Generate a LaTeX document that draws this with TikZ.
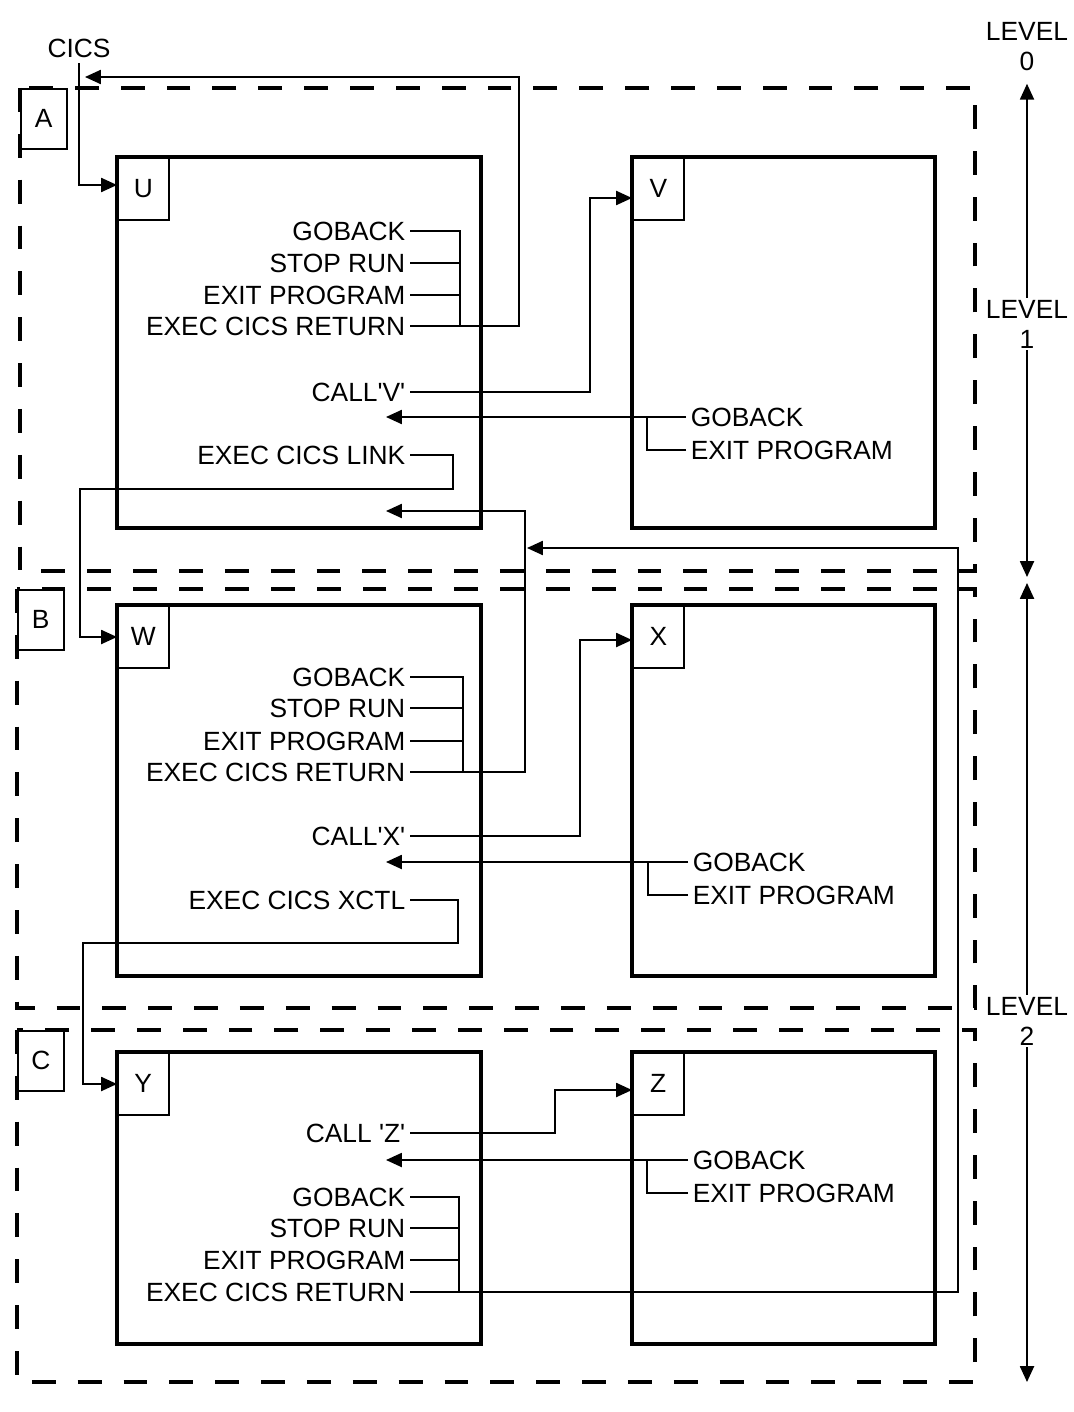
\documentclass[tikz,border=0pt]{standalone}
\usepackage{fontspec}
\setmainfont{Liberation Sans}
\usetikzlibrary{
	arrows.meta
}
\newcommand{\cfont}{\fontsize{15}{17}\selectfont}
\tikzset{
	prog/.style={line width=2.3pt},
	tagbox/.style={draw, line width=0.9pt, inner sep=0pt,
		minimum width=1.02cm, minimum height=1.24cm, font=\cfont},
	zone/.style={line width=2.3pt, dash pattern=on 13.6pt off 12.5pt},
	zonetag/.style={draw, line width=0.9pt, inner sep=0pt,
		minimum width=0.92cm, minimum height=1.2cm, font=\cfont},
	stmt/.style={font=\cfont, inner xsep=2.5pt, inner ysep=0pt,
		text height=10.7pt, text depth=0pt},
	link/.style={line width=0.95pt},
	flow/.style={link, -{Triangle[length=9pt, width=8pt]}},
	level/.style={font=\cfont, align=center, inner sep=1pt},
}
\newcommand{\progbox}[6]{%
	\draw[prog] (#2,#3) coordinate (#1nw) rectangle (#4,#5) coordinate (#1se);
	\node[tagbox, anchor=north west] (#1lab) at (#1nw) {#6};
}
\newcommand{\zonebox}[6]{%
	\draw[zone] (#2,#3) rectangle (#4,#5);
	\node[zonetag, anchor=north west] (#1) at (#2,#3) {#6};
}
\newcommand{\q}{\textquotesingle}

\begin{document}
\begin{tikzpicture}[x=0.02cm, y=-0.02cm, line join=miter]
	\useasboundingbox (0,0) rectangle (1073,1412);
	
	% -- Zones A, B, C ------------------------------------------
	\zonebox{zA}{20}{88}{975}{571}{A}
	\zonebox{zB}{17}{589}{975}{1008}{B}
	\zonebox{zC}{17}{1030}{975}{1382}{C}
	
	% -- Program boxes ------------------------------------------
	\progbox{U}{117}{157}{481}{528}{U}
	\progbox{V}{632}{157}{935}{528}{V}
	\progbox{W}{117}{605}{481}{976}{W}
	\progbox{X}{632}{605}{935}{976}{X}
	\progbox{Y}{117}{1052}{481}{1344}{Y}
	\progbox{Z}{632}{1052}{935}{1344}{Z}
	
	% -- CICS entry into U --------------------------------------
	\node[stmt, inner ysep=3pt] (cics) at (79,48) {CICS};
	\coordinate (uIn) at (79,185);
	\draw[flow] (cics.south) -- (uIn) -- (uIn -| Ulab.west);
	
	% -- Program U ----------------------------------------------
	\node[stmt, anchor=east] (uGo)   at (410,231) {GOBACK};
	\node[stmt, anchor=east] (uStop) at (410,263) {STOP RUN};
	\node[stmt, anchor=east] (uExit) at (410,295) {EXIT PROGRAM};
	\node[stmt, anchor=east] (uRet)  at (410,326) {EXEC CICS RETURN};
	\node[stmt, anchor=east] (uCall) at (410,392) {CALL\q V\q};
	\node[stmt, anchor=east] (uLink) at (410,455) {EXEC CICS LINK};
	
	\coordinate (uJ) at (460,326);
	\draw[link] (uGo.east) -| (uJ);
	\draw[link] (uStop.east) -- (uStop.east -| uJ);
	\draw[link] (uExit.east) -- (uExit.east -| uJ);
	
	% return to CICS
	\coordinate (uUp) at (519,77);
	\coordinate (cicsIn) at (85,77);
	\draw[flow] (uRet.east) -| (uUp) -- (cicsIn);
	
	% CALL V
	\coordinate (vIn) at (590,198);
	\draw[flow] (uCall.east) -| (vIn) -- (vIn -| Vlab.west);
	
	% LINK to W
	\coordinate (linkA) at (453,489);
	\coordinate (linkB) at (80,637);
	\draw[flow] (uLink.east) -| (linkA) -| (linkB) -- (linkB -| Wlab.west);
	
	% -- Program V ----------------------------------------------
	\node[stmt, anchor=west] (vGo)   at (686,417) {GOBACK};
	\node[stmt, anchor=west] (vExit) at (686,450) {EXIT PROGRAM};
	\coordinate (vJ) at (647,417);
	\coordinate (uBack) at (386,417);
	\draw[link] (vExit.west) -| (vJ);
	\draw[flow] (vGo.west) -- (uBack);
	
	% -- Program W ----------------------------------------------
	\node[stmt, anchor=east] (wGo)   at (410,677) {GOBACK};
	\node[stmt, anchor=east] (wStop) at (410,708) {STOP RUN};
	\node[stmt, anchor=east] (wExit) at (410,741) {EXIT PROGRAM};
	\node[stmt, anchor=east] (wRet)  at (410,772) {EXEC CICS RETURN};
	\node[stmt, anchor=east] (wCall) at (410,836) {CALL\q X\q};
	\node[stmt, anchor=east] (wXctl) at (410,900) {EXEC CICS XCTL};
	
	\coordinate (wJ) at (463,772);
	\draw[link] (wGo.east) -| (wJ);
	\draw[link] (wStop.east) -- (wStop.east -| wJ);
	\draw[link] (wExit.east) -- (wExit.east -| wJ);
	
	% return to U
	\coordinate (wUp) at (525,511);
	\coordinate (uBackW) at (386,511);
	\draw[flow] (wRet.east) -| (wUp) -- (uBackW);
	
	% CALL X
	\coordinate (xIn) at (580,640);
	\draw[flow] (wCall.east) -| (xIn) -- (xIn -| Xlab.west);
	
	% XCTL to Y
	\coordinate (xctlA) at (458,943);
	\coordinate (xctlB) at (83,1084);
	\draw[flow] (wXctl.east) -| (xctlA) -| (xctlB) -- (xctlB -| Ylab.west);
	
	% -- Program X ----------------------------------------------
	\node[stmt, anchor=west] (xGo)   at (688,862) {GOBACK};
	\node[stmt, anchor=west] (xExit) at (688,895) {EXIT PROGRAM};
	\coordinate (xJ) at (648,862);
	\coordinate (wBack) at (386,862);
	\draw[link] (xExit.west) -| (xJ);
	\draw[flow] (xGo.west) -- (wBack);
	
	% -- Program Y ----------------------------------------------
	\node[stmt, anchor=east] (yCall) at (410,1133) {CALL \q Z\q};
	\node[stmt, anchor=east] (yGo)   at (410,1197) {GOBACK};
	\node[stmt, anchor=east] (yStop) at (410,1228) {STOP RUN};
	\node[stmt, anchor=east] (yExit) at (410,1260) {EXIT PROGRAM};
	\node[stmt, anchor=east] (yRet)  at (410,1292) {EXEC CICS RETURN};
	
	\coordinate (yJ) at (459,1292);
	\draw[link] (yGo.east) -| (yJ);
	\draw[link] (yStop.east) -- (yStop.east -| yJ);
	\draw[link] (yExit.east) -- (yExit.east -| yJ);
	
	% return past W up to U
	\coordinate (yUp) at (958,548);
	\coordinate (yBackU) at (527,548);
	\draw[flow] (yRet.east) -| (yUp) -- (yBackU);
	
	% CALL Z
	\coordinate (zIn) at (555,1090);
	\draw[flow] (yCall.east) -| (zIn) -- (zIn -| Zlab.west);
	
	% -- Program Z ----------------------------------------------
	\node[stmt, anchor=west] (zGo)   at (688,1160) {GOBACK};
	\node[stmt, anchor=west] (zExit) at (688,1193) {EXIT PROGRAM};
	\coordinate (zJ) at (647,1160);
	\coordinate (yBack) at (386,1160);
	\draw[link] (zExit.west) -| (zJ);
	\draw[flow] (zGo.west) -- (yBack);
	
	% -- Levels -------------------------------------------------
	\node[level] (lev0) at (1027,47) {LEVEL\\0};
	\node[level] (lev1) at (1027,324) {LEVEL\\1};
	\node[level] (lev2) at (1027,1021) {LEVEL\\2};
	\coordinate (l1low) at (1027,577);
	\coordinate (l2high) at (1027,583);
	\coordinate (l2low) at (1027,1382);
	\draw[flow, shorten >=6pt] (lev1.north) -- (lev0.south);
	\draw[flow] (lev1.south) -- (l1low);
	\draw[flow] (lev2.north) -- (l2high);
	\draw[flow] (lev2.south) -- (l2low);
	
\end{tikzpicture}
\end{document}
